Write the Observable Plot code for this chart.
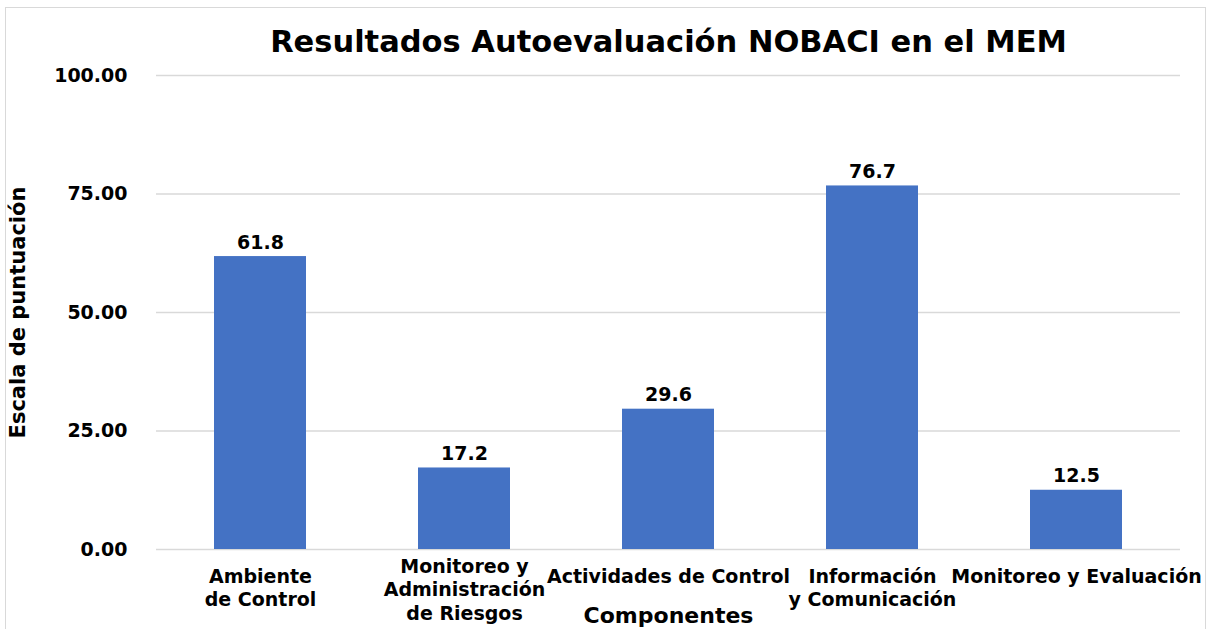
<!DOCTYPE html>
<html>
<head>
<meta charset="utf-8">
<script src="https://cdn.jsdelivr.net/npm/d3@7"></script>
<script src="https://cdn.jsdelivr.net/npm/@observablehq/plot@0.6"></script>
<style>
  html, body { margin: 0; padding: 0; background: #fff; overflow: hidden; }
  #wrap { position: relative; width: 1217px; height: 629px; }
  #frame { position: absolute; left: 5px; top: 7px; width: 1201px; height: 640px; border: 1px solid #d9d9d9; box-sizing: border-box; }
  #chart { position: absolute; left: 0; top: 0; }
</style>
</head>
<body>
<div id="wrap"><div id="frame"></div><div id="chart"></div></div>
<script>
const categories = [
  "Ambiente de Control",
  "Monitoreo y Administración de Riesgos",
  "Actividades de Control",
  "Información y Comunicación",
  "Monitoreo y Evaluación"
];
const tickLabels = [
  "Ambiente\nde Control",
  "Monitoreo y\nAdministración\nde Riesgos",
  "Actividades de Control",
  "Información\ny Comunicación",
  "Monitoreo y Evaluación"
];
const values = [61.8, 17.2, 29.6, 76.7, 12.5];
const yTicks = [0, 25, 50, 75, 100];
const title = "Resultados Autoevaluación NOBACI en el MEM";
const xTitle = "Componentes";
const yTitle = "Escala de puntuación";

const data = categories.map((c, i) => ({cat: c, value: values[i], label: tickLabels[i]}));
const font = "'DejaVu Sans', sans-serif";
const nLines = d => d.label.split("\n").length;

const chart = Plot.plot({
  width: 1217,
  height: 629,
  marginLeft: 156,
  marginRight: 37,
  marginTop: 75,
  marginBottom: 80,
  style: {fontFamily: font, background: "transparent", color: "#000"},
  x: {domain: categories, paddingInner: 0.55, paddingOuter: 0.275, axis: null},
  y: {domain: [0, 100], axis: null},
  marks: [
    Plot.ruleY(yTicks, {stroke: "#d9d9d9", strokeWidth: 1.5}),
    Plot.barY(data, {x: "cat", y: "value", fill: "#4472C4"}),
    Plot.text(yTicks, {
      y: d => d, text: d => d.toFixed(2),
      frameAnchor: "left", textAnchor: "end", dx: -29,
      fontSize: 19, fontWeight: "bold", fill: "#000"
    }),
    Plot.text(data, {
      x: "cat", y: "value", text: d => d.value.toFixed(1),
      lineAnchor: "bottom", dy: -8, fontSize: 19, fontWeight: "bold", fill: "#000"
    }),
    Plot.text(data.filter(d => nLines(d) <= 2), {
      x: "cat", y: () => 0, text: "label",
      lineAnchor: "top", dy: 16, lineHeight: 1.26, fontSize: 19, fontWeight: "bold", fill: "#000"
    }),
    Plot.text(data.filter(d => nLines(d) > 2), {
      x: "cat", y: () => 0, text: "label",
      lineAnchor: "top", dy: 6, lineHeight: 1.26, fontSize: 19, fontWeight: "bold", fill: "#000"
    }),
    Plot.text([xTitle], {
      frameAnchor: "bottom", dy: 73, lineAnchor: "bottom",
      fontSize: 22, fontWeight: "bold", fill: "#000"
    }),
    Plot.text([yTitle], {
      frameAnchor: "left", textAnchor: "middle", dx: -138, rotate: -90,
      fontSize: 21, fontWeight: "bold", fill: "#000"
    }),
    Plot.text([title], {
      frameAnchor: "top", dy: -45,
      fontSize: 30.5, fontWeight: "bold", fill: "#000"
    })
  ]
});
document.getElementById("chart").appendChild(chart);
</script>
</body>
</html>
